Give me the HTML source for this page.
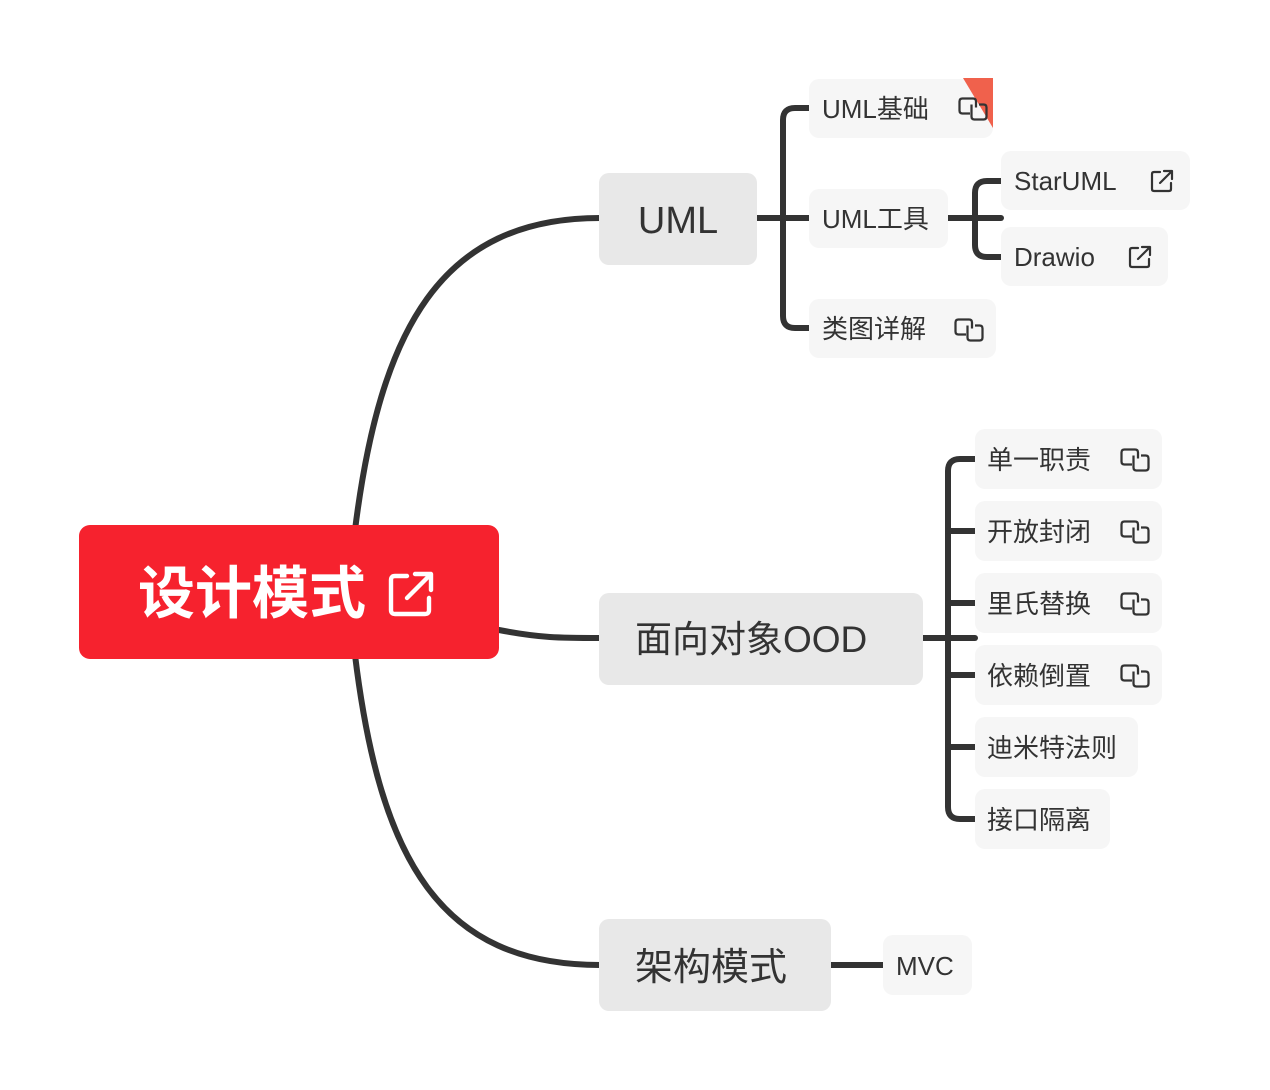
<!DOCTYPE html>
<html><head><meta charset="utf-8"><style>
html,body{margin:0;padding:0;background:#fff;}
svg{display:block;}
text{font-family:"Liberation Sans","Noto Sans CJK SC",sans-serif;fill:#333;}
</style></head><body>
<svg width="1270" height="1090" viewBox="0 0 1270 1090" xmlns="http://www.w3.org/2000/svg">
<defs>
<g id="lk" fill="none" stroke="#333" stroke-width="1.5" stroke-linejoin="round">
<path d="M8,11 H3 Q1,11 1,9 V3 Q1,1 3,1 H10 Q12,1 12,3 V7"/>
<path d="M9,5 V13 Q9,15 11,15 H17 Q19,15 19,13 V7 Q19,5 17,5 H14"/>
</g>
<g id="ex" fill="none" stroke="#333" stroke-width="2.2" stroke-linecap="round" stroke-linejoin="round">
<path d="M9,2 H3 Q1,2 1,4 V19 Q1,21 3,21 H18 Q20,21 20,19 V13"/>
<path d="M9,13 L21,1 M13,1 H21 V9"/>
</g>
<g id="exw" fill="none" stroke="#fff" stroke-width="2.2" stroke-linecap="round" stroke-linejoin="round">
<path d="M9,2 H3 Q1,2 1,4 V19 Q1,21 3,21 H18 Q20,21 20,19 V13"/>
<path d="M9,13 L21,1 M13,1 H21 V9"/>
</g>
</defs>
<g fill="none" stroke="#333" stroke-width="6" stroke-linecap="round">
<path d="M355,530 C380,330 440,218 600,218"/>
<path d="M355,655 C380,860 440,965 600,965"/>
<path d="M499,630 C540,638 560,638 600,638"/>
<path d="M757,218 H809"/>
<path d="M809,108 H795 Q783,108 783,120 V316 Q783,328 795,328 H809"/>
<path d="M948,218 H1001"/>
<path d="M1001,181 H987 Q975,181 975,193 V245 Q975,257 987,257 H1001"/>
<path d="M923,638 H975"/>
<path d="M975,459 H960 Q948,459 948,471 V807 Q948,819 960,819 H975"/>
<path d="M948,531 H975 M948,603 H975 M948,675 H975 M948,747 H975"/>
<path d="M831,965 H883"/>
</g>
<rect x="79" y="525" width="420" height="134" rx="11" fill="#f6222e"/>
<text x="138" y="613" font-size="57" font-weight="bold" style="fill:#fff">设计模式</text>
<g transform="translate(389,572) scale(2)"><use href="#exw"/></g>
<rect x="599" y="173" width="158" height="92" rx="10" fill="#e8e8e8"/>
<text x="678" y="233" font-size="38" text-anchor="middle">UML</text>
<rect x="599" y="593" width="324" height="92" rx="10" fill="#e8e8e8"/>
<text x="635" y="652" font-size="37">面向对象OOD</text>
<rect x="599" y="919" width="232" height="92" rx="10" fill="#e8e8e8"/>
<text x="635" y="980" font-size="38">架构模式</text>
<g fill="#f6f6f6">
<rect x="809" y="79" width="184" height="59" rx="10"/>
<rect x="809" y="189" width="139" height="59" rx="10"/>
<rect x="809" y="299" width="187" height="59" rx="10"/>
<rect x="1001" y="151" width="189" height="59" rx="10"/>
<rect x="1001" y="227" width="167" height="59" rx="10"/>
<rect x="975" y="429" width="187" height="60" rx="10"/>
<rect x="975" y="501" width="187" height="60" rx="10"/>
<rect x="975" y="573" width="187" height="60" rx="10"/>
<rect x="975" y="645" width="187" height="60" rx="10"/>
<rect x="975" y="717" width="163" height="60" rx="10"/>
<rect x="975" y="789" width="135" height="60" rx="10"/>
<rect x="883" y="935" width="89" height="60" rx="10"/>
</g>
<polygon points="963,78 993,78 993,128" fill="#f0614c"/>
<g font-size="26">
<text x="822" y="118">UML基础</text>
<text x="822" y="228">UML工具</text>
<text x="822" y="338">类图详解</text>
<text x="1014" y="190">StarUML</text>
<text x="1014" y="266">Drawio</text>
<text x="987" y="469">单一职责</text>
<text x="987" y="541">开放封闭</text>
<text x="987" y="613">里氏替换</text>
<text x="987" y="685">依赖倒置</text>
<text x="987" y="757">迪米特法则</text>
<text x="987" y="829">接口隔离</text>
<text x="896" y="975">MVC</text>
</g>
<g transform="translate(958,97) scale(1.5)"><use href="#lk"/></g>
<g transform="translate(954,318) scale(1.5)"><use href="#lk"/></g>
<g transform="translate(1120,448) scale(1.5)"><use href="#lk"/></g>
<g transform="translate(1120,520) scale(1.5)"><use href="#lk"/></g>
<g transform="translate(1120,592) scale(1.5)"><use href="#lk"/></g>
<g transform="translate(1120,664) scale(1.5)"><use href="#lk"/></g>
<use href="#ex" x="1151" y="170"/>
<use href="#ex" x="1129" y="246"/>
</svg>
</body></html>
